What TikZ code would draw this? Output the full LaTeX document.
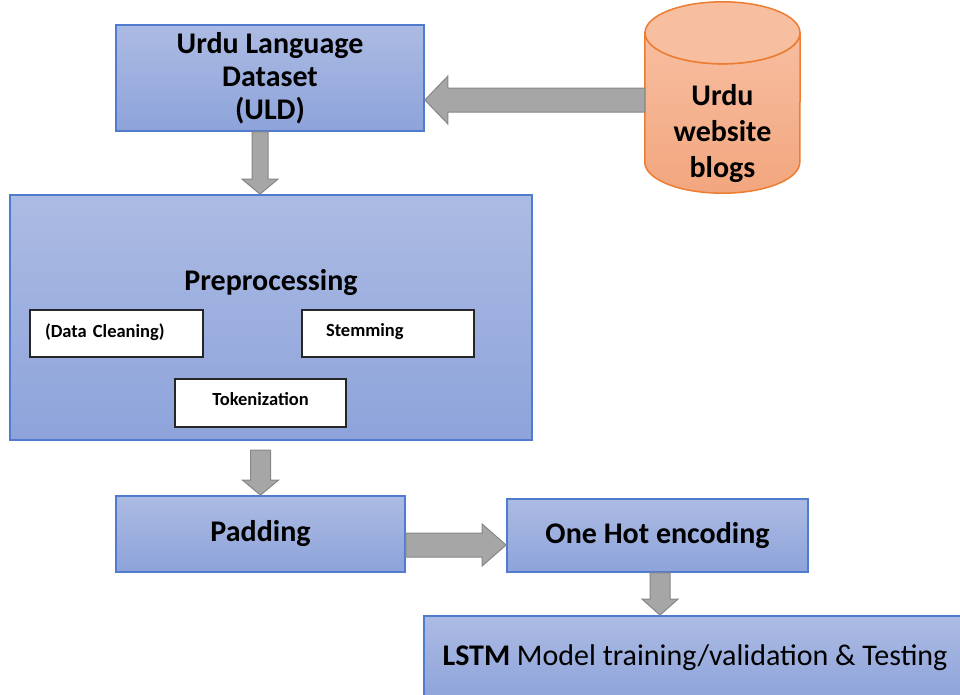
\documentclass[tikz,border=0pt]{standalone}
\usepackage{fontspec}
\setmainfont{Carlito}
\usetikzlibrary{calc,backgrounds}

\definecolor{boxtop}{RGB}{172,187,227}
\definecolor{boxbot}{RGB}{141,163,218}
\definecolor{boxedge}{RGB}{79,124,207}
\definecolor{cyltop}{RGB}{247,190,160}
\definecolor{cylbot}{RGB}{242,166,126}
\definecolor{cyledge}{RGB}{237,125,49}
\definecolor{arrfill}{RGB}{166,166,166}
\definecolor{arredge}{RGB}{135,135,135}

% vertical block arrow: start, tip, shaft half width, head half width, head length
\newcommand{\downblock}[5]{%
  \draw[blockarrow] ($(#1)+(-#3,0)$) -- ($(#2)+(-#3,-#5)$) -- ($(#2)+(-#4,-#5)$)
    -- (#2) -- ($(#2)+(#4,-#5)$) -- ($(#2)+(#3,-#5)$) -- ($(#1)+(#3,0)$) -- cycle;}
% horizontal block arrow: start, tip, shaft half width, head half width, signed head length
\newcommand{\sideblock}[5]{%
  \draw[blockarrow] ($(#1)+(0,-#3)$) -- ($(#2)+(#5,-#3)$) -- ($(#2)+(#5,-#4)$)
    -- (#2) -- ($(#2)+(#5,#4)$) -- ($(#2)+(#5,#3)$) -- ($(#1)+(0,#3)$) -- cycle;}

\begin{document}
\begin{tikzpicture}[x=1pt,y=-1pt,
  bigfont/.style={font=\fontsize{30}{33}\selectfont\bfseries},
  bluebox/.style={draw=boxedge, line width=1.8pt, top color=boxtop, bottom color=boxbot,
    align=center, inner sep=0pt, bigfont},
  inbox/.style={draw=black!85, line width=2pt, fill=white, inner ysep=0pt,
    font=\fontsize{18.5}{20}\selectfont\bfseries},
  blockarrow/.style={fill=arrfill, draw=arredge, line width=1pt},
  cylbody/.style={draw=cyledge, line width=1.5pt, top color=cyltop, bottom color=cylbot},
  cylcap/.style={draw=cyledge, line width=1.5pt, fill=cyltop}
]
\useasboundingbox (0,0) rectangle (960,694);

% main blocks
\node[bluebox, minimum width=308pt, minimum height=106pt] (uld) at (270,78)
  {Urdu Language\\Dataset\\(ULD)};
\node[bluebox, minimum width=522pt, minimum height=245pt,
  label={[bigfont, anchor=center, yshift=34.5pt]center:Preprocessing}] (pre) at (271,317.5) {};
\node[inbox, inner xsep=15pt, text width=143pt, align=left, minimum height=47pt] (clean)
  at (116.5,333.5) {\raisebox{6pt}{(Data Cleaning)}};
\node[inbox, inner xsep=24pt, text width=124pt, align=left, minimum height=47pt] (stem)
  at (388,333.5) {\raisebox{6pt}{Stemming}};
\node[inbox, inner xsep=10pt, text width=151pt, align=center, minimum height=48pt] (token)
  at (260.5,403) {\raisebox{8pt}{Tokenization}};
\node[bluebox, minimum width=289pt, minimum height=76pt] (pad) at (260.5,534) {Padding};
\node[bluebox, minimum width=301pt, minimum height=73pt] (hot) at (657.5,535.5)
  {One Hot encoding};
\node[bluebox, minimum width=542pt, minimum height=84pt, font=\fontsize{30}{33}\selectfont]
  (lstm) at (695,658) {\textbf{LSTM} Model training/validation \& Testing};

% data source cylinder
\node[minimum width=155pt, minimum height=191pt, inner sep=0pt,
  label={[font=\fontsize{30}{36}\selectfont\bfseries, align=center, anchor=center, yshift=-36.5pt]center:Urdu\\website\\blogs}]
  (blogs) at (722.5,97.5) {};
\begin{scope}[on background layer]
  \path[cylbody] ($(blogs.north west)+(0,31)$) -- ($(blogs.south west)+(0,-31)$)
    arc[start angle=180, end angle=0, x radius=77.5, y radius=31]
    -- ($(blogs.north east)+(0,31)$)
    arc[start angle=0, end angle=180, x radius=77.5, y radius=31] -- cycle;
  \path[cylcap] ($(blogs.north)+(0,31)$) ellipse [x radius=77.5, y radius=31];
\end{scope}

% connectors
\coordinate (a1s) at ($(uld.south)+(-10,0)$);
\coordinate (a1e) at (a1s |- pre.north);
\downblock{a1s}{a1e}{8}{18}{15}

\coordinate (a2e) at ($(uld.east)+(0,22)$);
\coordinate (a2s) at (a2e -| blogs.west);
\sideblock{a2s}{a2e}{12}{24}{23}

\coordinate (a3e) at (pad.north);
\coordinate (a3s) at ($(a3e)+(0,-45)$);
\downblock{a3s}{a3e}{10}{18}{15}

\coordinate (a4s) at ($(pad.east)+(0,11)$);
\coordinate (a4e) at (a4s -| hot.west);
\sideblock{a4s}{a4e}{12}{21}{-24}

\coordinate (a5s) at ($(hot.south)+(2.5,0)$);
\coordinate (a5e) at (a5s |- lstm.north);
\downblock{a5s}{a5e}{10}{18}{16}
\end{tikzpicture}
\end{document}
